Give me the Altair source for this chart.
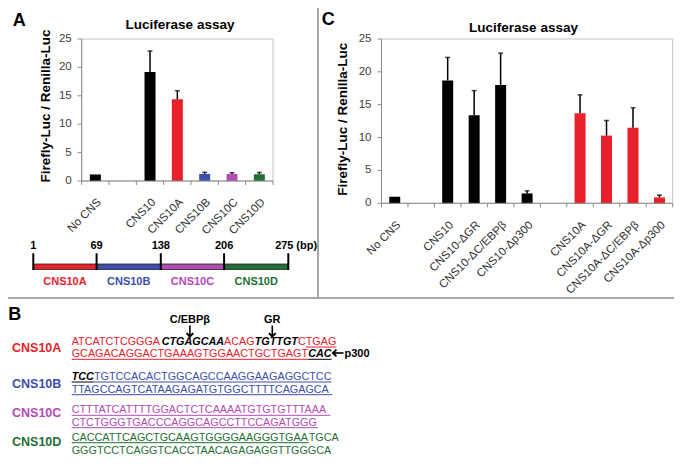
import altair as alt
import pandas as pd

FONT = "Liberation Sans"
W, H = 666, 452
M = 8  # page margin: reference pixel -> chart pixel = ref - M


def P(v):
    return v - M


BLACK = "#000000"
RED = "#e8212b"
BLUE = "#3d4fa9"
PURPLE = "#b34bb5"
GREEN = "#1f6f36"
AXIS = "#8a8a8a"
FRAME = "#c6c6c6"
PANEL = "#a8a8a8"

# ---------------- Panel A data ----------------
a_domain = ["No CNS", " ", "CNS10", "CNS10A", "CNS10B", "CNS10C", "CNS10D"]
a_names = ["No CNS", "CNS10", "CNS10A", "CNS10B", "CNS10C", "CNS10D"]
a_values = [1.15, 19.2, 14.4, 1.25, 1.22, 1.2]
a_errors = [0.0, 3.7, 1.5, 0.28, 0.24, 0.3]
a_colors = [BLACK, BLACK, RED, BLUE, PURPLE, GREEN]

# ---------------- Panel C data ----------------
c_domain = ["No CNS", " ", "CNS10", "CNS10-ΔGR", "CNS10-ΔC/EBPβ", "CNS10-Δp300", "  ",
            "CNS10A", "CNS10A-ΔGR", "CNS10A-ΔC/EBPβ", "CNS10A-Δp300"]
c_names = ["No CNS", "CNS10", "CNS10-ΔGR", "CNS10-ΔC/EBPβ", "CNS10-Δp300",
           "CNS10A", "CNS10A-ΔGR", "CNS10A-ΔC/EBPβ", "CNS10A-Δp300"]
c_values = [1.0, 18.7, 13.4, 18.0, 1.5, 13.7, 10.3, 11.5, 0.9]
c_errors = [0.0, 3.5, 3.75, 4.85, 0.4, 2.8, 2.3, 3.05, 0.35]
c_colors = [BLACK, BLACK, BLACK, BLACK, BLACK, RED, RED, RED, RED]

y_ticks = [0, 5, 10, 15, 20, 25]

# ---------------- Diagram data ----------------
bp_bounds = [1, 69, 138, 206, 275]
bp_labels = ["1", "69", "138", "206", "275"]
seg_names = ["CNS10A", "CNS10B", "CNS10C", "CNS10D"]
seg_colors = [RED, BLUE, PURPLE, GREEN]

# ---------------- Panel B sequences ----------------
# (text, style, underline) ; style "n" = region colour, "i" = black bold italic
seq_10a = [
    [("ATCATCTCGGGA", "n", False), ("CTGAGCAA", "i", False), ("ACAG", "n", False),
     ("TGTTGT", "i", False), ("C", "n", False), ("TGAG", "n", True)],
    [("GCAGACAGGACTGAAAGTGGAACTGCTGAGT", "n", True), ("CAC", "i", True)],
]
seq_10b = [
    [("TCC", "i", True), ("TGTCCACACTGGCAGCCAAGGAAGAGGCTCC", "n", True)],
    [("TTAGCCAGTCATAAGAGATGTGGCTTTTCAGAGCA", "n", True)],
]
seq_10c = [
    [("CTTTATCATTTTGGACTCTCAAAATGTGTGTTTAAA", "n", True)],
    [("CTCTGGGTGACCCAGGCAGCCTTCCAGATGGG", "n", True)],
]
seq_10d = [
    [("CACCATTCAGCTGCAAGTGGGGAAGGGTGAA", "n", True), ("TGCA", "n", False)],
    [("GGGTCCTCAGGTCACCTAACAGAGAGGTTGGGCA", "n", False)],
]
sites = ["C/EBPβ", "GR", "p300"]


# ---------------- helpers ----------------
def texts(df, **kw):
    enc = dict(
        x=alt.X("x:Q", scale=None, axis=None),
        y=alt.Y("y:Q", scale=None, axis=None),
        text="t:N",
    )
    if "c" in df.columns:
        enc["color"] = alt.Color("c:N", scale=None, legend=None)
    return alt.Chart(df).mark_text(font=FONT, **kw).encode(**enc)


def one():
    return pd.DataFrame({"k": [0]})


def bar_panel(domain, names, values, errors, colors, x0, x1, y0, y1, lab_dy):
    df = pd.DataFrame({"cat": names, "value": values, "err": errors})
    df["top"] = df["value"] + df["err"]
    xs = alt.Scale(domain=domain, range=[x0, x1], paddingInner=0, paddingOuter=0)
    ys = alt.Scale(domain=[0, 25], range=[y0, y1], nice=False, zero=True)
    base = alt.Chart(df)
    frame = alt.Chart(one()).mark_rect(
        fillOpacity=0, stroke=FRAME, strokeWidth=1
    ).encode(x=alt.value(x0), x2=alt.value(x1), y=alt.value(y1), y2=alt.value(y0))
    bars = base.mark_bar(size=11).encode(
        x=alt.X("cat:N", scale=xs, axis=None),
        y=alt.Y("value:Q", scale=ys, axis=None),
        color=alt.Color("cat:N", scale=alt.Scale(domain=names, range=colors), legend=None),
    )
    ebase = base.transform_filter("datum.err > 0")
    err = ebase.mark_rule(strokeWidth=1.5, color=BLACK).encode(
        x=alt.X("cat:N", axis=None), y=alt.Y("value:Q", axis=None), y2="top:Q")
    caps = ebase.mark_tick(size=5, thickness=1.5, color=BLACK).encode(
        x=alt.X("cat:N", axis=None), y=alt.Y("top:Q", axis=None))
    # x axis: domain, boundary ticks, rotated labels
    xdom = alt.Chart(one()).mark_rule(color=AXIS, strokeWidth=1).encode(
        x=alt.value(x0), x2=alt.value(x1), y=alt.value(y0))
    ticks = alt.Chart(pd.DataFrame({"cat": domain})).mark_rule(color=AXIS, strokeWidth=1).encode(
        x=alt.X("cat:N", axis=None, bandPosition=0),
        y=alt.value(y0), y2=alt.value(y0 + 4))
    end_tick = alt.Chart(pd.DataFrame({"cat": [domain[-1]]})).mark_rule(
        color=AXIS, strokeWidth=1).encode(
        x=alt.X("cat:N", axis=None, bandPosition=1),
        y=alt.value(y0), y2=alt.value(y0 + 4))
    xlabs = alt.Chart(pd.DataFrame({"cat": names})).mark_text(
        font=FONT, fontSize=11.5, color="#333333", angle=315, align="right", baseline="top"
    ).encode(x=alt.X("cat:N", axis=None), y=alt.value(y0 + lab_dy), text="cat:N")
    # y axis: domain, ticks, labels
    ydom = alt.Chart(one()).mark_rule(color=AXIS, strokeWidth=1).encode(
        x=alt.value(x0), y=alt.value(y1), y2=alt.value(y0))
    tdf = pd.DataFrame({"v": y_ticks})
    yticks = alt.Chart(tdf).mark_rule(color=AXIS, strokeWidth=1).encode(
        y=alt.Y("v:Q", axis=None), x=alt.value(x0 - 4), x2=alt.value(x0))
    ylabs = alt.Chart(tdf).mark_text(
        font=FONT, fontSize=11.5, color="#404040", align="right", baseline="middle"
    ).encode(y=alt.Y("v:Q", axis=None), x=alt.value(x0 - 10), text="v:Q")
    return alt.layer(frame, bars, err, caps, xdom, ticks, end_tick, xlabs, ydom, yticks, ylabs)


layers = []

# panel dividers
div_v = alt.Chart(one()).mark_rule(color=PANEL, strokeWidth=2).encode(
    x=alt.value(P(318)), y=alt.value(0), y2=alt.value(P(298)))
div_h = alt.Chart(one()).mark_rule(color=PANEL, strokeWidth=2).encode(
    x=alt.value(0), x2=alt.value(W), y=alt.value(P(298)))
layers += [div_v, div_h]

# bar panels
layers.append(bar_panel(a_domain, a_names, a_values, a_errors, a_colors,
                        P(81.7), P(273), P(181), P(39), 15.5))
layers.append(bar_panel(c_domain, c_names, c_values, c_errors, c_colors,
                        P(381.5), P(672.7), P(203.3), P(39), 16))

# titles, axis titles, panel letters
layers.append(texts(pd.DataFrame({
    "x": [P(180), P(523.5)], "y": [P(29.3), P(31.7)],
    "t": ["Luciferase assay", "Luciferase assay"]}),
    fontSize=13.5, fontWeight="bold", align="center", baseline="alphabetic", color=BLACK))
layers.append(texts(pd.DataFrame({
    "x": [P(50), P(347)], "y": [P(106), P(119.3)],
    "t": ["Firefly-Luc / Renilla-Luc", "Firefly-Luc / Renilla-Luc"]}),
    fontSize=13.5, fontWeight="bold", align="center", baseline="alphabetic",
    angle=270, color=BLACK))
layers.append(texts(pd.DataFrame({
    "x": [P(12.7), P(321.7), P(8.3)], "y": [P(26), P(25), P(320)],
    "t": ["A", "C", "B"]}),
    fontSize=18, fontWeight="bold", align="left", baseline="alphabetic", color=BLACK))

# ---------------- diagram ----------------
dx = alt.Scale(domain=[1, 275], range=[P(33.3), P(288.3)])
seg_df = pd.DataFrame({"name": seg_names, "start": bp_bounds[:-1], "end": bp_bounds[1:]})
seg_df["mid"] = (seg_df["start"] + seg_df["end"]) / 2
seg_color = alt.Color("name:N", scale=alt.Scale(domain=seg_names, range=seg_colors), legend=None)
segs = alt.Chart(seg_df).mark_rect(stroke="#222222", strokeWidth=0.8).encode(
    x=alt.X("start:Q", scale=dx, axis=None), x2="end:Q",
    y=alt.value(P(264)), y2=alt.value(P(269.5)), color=seg_color)
seg_lab = alt.Chart(seg_df).mark_text(font=FONT, fontSize=11, fontWeight="bold",
                                      baseline="alphabetic", align="center").encode(
    x=alt.X("mid:Q", scale=dx, axis=None), y=alt.value(P(284.5)), text="name:N", color=seg_color)
bdf = pd.DataFrame({"bp": bp_bounds, "lab": bp_labels})
bticks = alt.Chart(bdf).mark_rule(strokeWidth=2, color=BLACK).encode(
    x=alt.X("bp:Q", scale=dx, axis=None), y=alt.value(P(253.3)), y2=alt.value(P(270)))
blabs = alt.Chart(bdf.iloc[:-1]).mark_text(font=FONT, fontSize=11, fontWeight="bold",
                                           baseline="alphabetic", align="center", color=BLACK).encode(
    x=alt.X("bp:Q", scale=dx, axis=None), y=alt.value(P(249.3)), text="lab:N")
blast = alt.Chart(bdf.iloc[-1:]).mark_text(font=FONT, fontSize=11, fontWeight="bold",
                                           baseline="alphabetic", align="center", dx=-4,
                                           color=BLACK).encode(
    x=alt.X("bp:Q", scale=dx, axis=None), y=alt.value(P(249.3)), text="lab:N")
bpunit = alt.Chart(bdf.iloc[-1:]).mark_text(
    font=FONT, fontSize=11, fontWeight="bold", baseline="alphabetic", align="left",
    dx=8, color=BLACK, text="(bp)").encode(
    x=alt.X("bp:Q", scale=dx, axis=None), y=alt.value(P(249.3)))
layers.append(alt.layer(segs, bticks, blabs, blast, bpunit, seg_lab))

# ---------------- panel B sequences ----------------
W_REG = {"A": 0.667, "C": 0.722, "G": 0.778, "T": 0.611}
W_BOLD = {"A": 0.722, "C": 0.722, "G": 0.778, "T": 0.611}
FS = 10.8
X0 = P(71.7)

blocks = [
    ("CNS10A", RED, seq_10a, [345, 357.3], 348),
    ("CNS10B", BLUE, seq_10b, [380, 392.7], 384),
    ("CNS10C", PURPLE, seq_10c, [413.3, 425.7], 413),
    ("CNS10D", GREEN, seq_10d, [440.7, 454], 442),
]
norm_rows, ital_rows, ul_rows, lab_rows = [], [], [], []
seg_pos = {}
for name, col, lines, bases, ly in blocks:
    lab_rows.append({"x": P(12), "y": P(ly), "t": name, "c": col})
    for li, (line, b) in enumerate(zip(lines, bases)):
        x = X0
        for si, (txt, style, ul) in enumerate(line):
            metr = W_BOLD if style == "i" else W_REG
            w = sum(metr[ch] for ch in txt) * FS
            row = {"x": x, "y": P(b), "t": txt}
            if style == "i":
                ital_rows.append(row)
            else:
                row["c"] = col
                norm_rows.append(row)
            if ul:
                ul_rows.append({"x": x, "x2": x + w, "y": P(b) + 2,
                                "c": BLACK if style == "i" else col})
            seg_pos[(name, li, si)] = (x, x + w)
            x += w

layers.append(texts(pd.DataFrame(lab_rows), fontSize=12.5, fontWeight="bold",
                    align="left", baseline="middle"))
layers.append(texts(pd.DataFrame(norm_rows), fontSize=FS, align="left", baseline="alphabetic"))
layers.append(texts(pd.DataFrame(ital_rows), fontSize=FS, fontWeight="bold", fontStyle="italic",
                    align="left", baseline="alphabetic", color=BLACK))
ul_df = pd.DataFrame(ul_rows)
layers.append(alt.Chart(ul_df).mark_rule(strokeWidth=1).encode(
    x=alt.X("x:Q", scale=None, axis=None), x2="x2:Q",
    y=alt.Y("y:Q", scale=None, axis=None), color=alt.Color("c:N", scale=None, legend=None)))

# binding site annotations
cebp = seg_pos[("CNS10A", 0, 1)]
gr = seg_pos[("CNS10A", 0, 3)]
cac = seg_pos[("CNS10A", 1, 1)]
cx_cebp = (cebp[0] + cebp[1]) / 2 - 3
cx_gr = (gr[0] + gr[1]) / 2 - 4
site_df = pd.DataFrame({
    "x": [cx_cebp, cx_gr, cac[1] + 13],
    "y": [P(323), P(323), P(357)],
    "t": sites,
    "al": ["center", "center", "left"],
})
layers.append(texts(site_df[site_df.al == "center"].drop(columns="al"), fontSize=11,
                    fontWeight="bold", align="center", baseline="alphabetic", color=BLACK))
layers.append(texts(site_df[site_df.al == "left"].drop(columns="al"), fontSize=11,
                    fontWeight="bold", align="left", baseline="alphabetic", color=BLACK))
arrow_v = pd.DataFrame({"x": [cx_cebp, cx_gr], "y": [P(325.5), P(325.5)], "y2": [P(336.5), P(336.5)]})
layers.append(alt.Chart(arrow_v).mark_rule(strokeWidth=1.6, color=BLACK).encode(
    x=alt.X("x:Q", scale=None, axis=None), y=alt.Y("y:Q", scale=None, axis=None), y2="y2:Q"))
layers.append(alt.Chart(arrow_v).mark_point(
    shape="M-1,-1L0,0L1,-1", filled=False, size=45, strokeWidth=2, color=BLACK, opacity=1).encode(
    x=alt.X("x:Q", scale=None, axis=None), y=alt.Y("y2:Q", scale=None, axis=None)))
arrow_h = pd.DataFrame({"x": [cac[1] + 1.5], "x2": [cac[1] + 12], "y": [P(353)]})
layers.append(alt.Chart(arrow_h).mark_rule(strokeWidth=1.6, color=BLACK).encode(
    x=alt.X("x:Q", scale=None, axis=None), x2="x2:Q", y=alt.Y("y:Q", scale=None, axis=None)))
layers.append(alt.Chart(arrow_h).mark_point(
    shape="M1,-1L0,0L1,1", filled=False, size=45, strokeWidth=2, color=BLACK, opacity=1).encode(
    x=alt.X("x:Q", scale=None, axis=None), y=alt.Y("y:Q", scale=None, axis=None)))

chart = alt.layer(*layers).resolve_scale(
    x="independent", y="independent", color="independent"
).properties(
    width=W, height=H, padding=0, autosize=alt.AutoSizeParams(type="none")
).configure_view(strokeWidth=0)

chart.save("out.html", embed_options={"renderer": "svg", "actions": False})
